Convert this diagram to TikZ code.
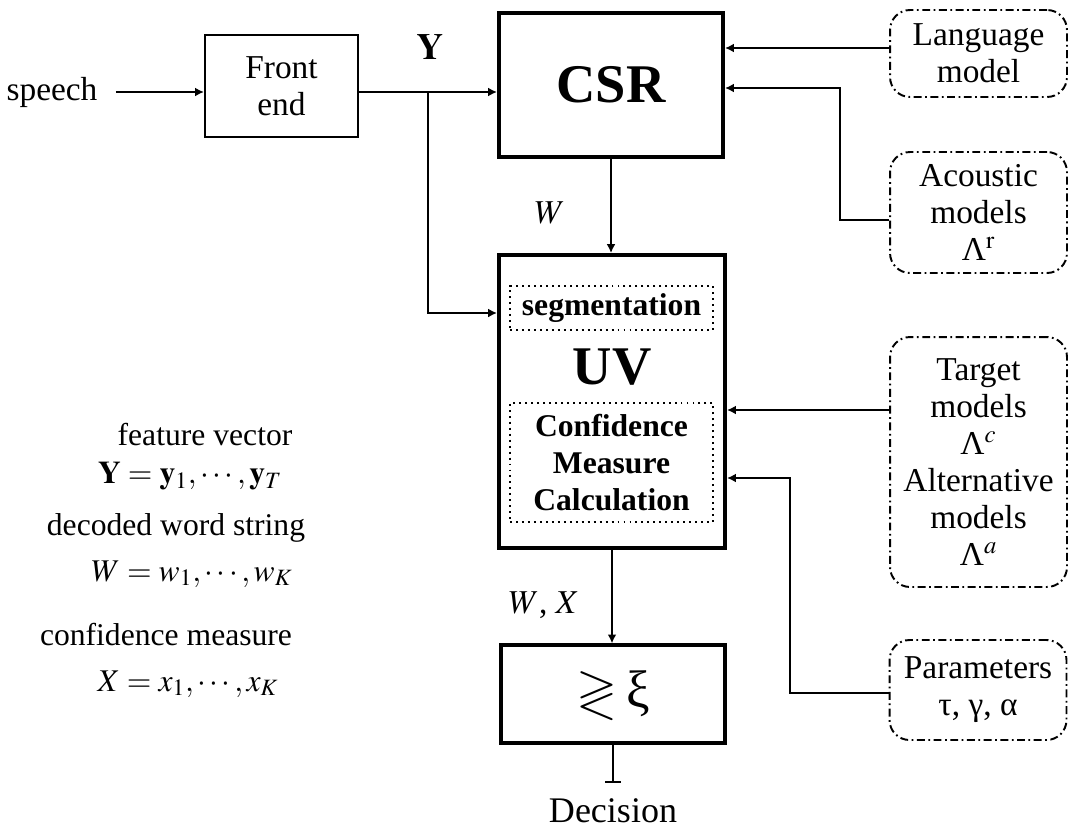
\documentclass[tikz,border=0pt]{standalone}
\usepackage{mathptmx}
\usepackage{amssymb}
\usepackage[no-math]{fontspec}
\setmainfont{Liberation Serif}
\usetikzlibrary{arrows.meta}
\newcommand{\bodysize}{\fontsize{19}{21}\selectfont}
\newcommand{\legsize}{\fontsize{18}{21}\selectfont}
\tikzset{
  blockNode/.style={draw,line width=1.2pt,align=center,inner sep=0pt,font=\bodysize},
  thickBlock/.style={draw,line width=2.3pt,inner sep=0pt,font=\fontsize{31}{34}\selectfont\bfseries},
  modelNode/.style={draw,line width=1.1pt,rounded corners=0.4cm,dash pattern=on 4.5pt off 2pt on 1pt off 2pt,
    minimum width=3.54cm,align=center,inner sep=0pt,font=\bodysize},
  innerBox/.style={draw,line width=1.1pt,dash pattern=on 1.1pt off 2.3pt,minimum width=4.06cm,
    align=center,inner sep=0pt,font=\legsize\bfseries},
  lbl/.style={inner sep=0pt,font=\bodysize},
  legend/.style={inner sep=0pt,font=\legsize},
  conn/.style={line width=1.2pt,-{Latex[length=5pt,width=5pt]}}
}
\begin{document}
\begin{tikzpicture}[x=0.02cm,y=-0.02cm]
  \useasboundingbox (0,0) rectangle (1070,829);
  \node[lbl] (sp) at (52,92) {speech};
  \node[blockNode,minimum width=3.06cm,minimum height=2.04cm] (fe) at (281.5,86) {Front\\end};
  \node[thickBlock,minimum width=4.48cm,minimum height=2.88cm] (csr) at (611,85) {CSR};
  \node[thickBlock,minimum width=4.52cm,minimum height=5.86cm] (uv) at (612,401.5) {};
  \node[innerBox,minimum height=0.88cm] (seg) at (611.5,308) {segmentation};
  \node[lbl,font=\fontsize{31}{34}\selectfont\bfseries] (uvl) at (612,367) {UV};
  \node[innerBox,minimum height=2.38cm] (cmc) at (611.5,462.5) {Confidence\\Measure\\Calculation};
  \node[blockNode,line width=1.9pt,minimum width=4.48cm,minimum height=1.96cm] (thr) at (613,694)
    {{\fontsize{30}{32}\selectfont$\gtrless$\,ξ}};
  \node[lbl,font=\fontsize{20.5}{22}\selectfont] (dec) at (613,811) {Decision};
  \node[modelNode,minimum height=1.74cm] (lm) at (978.5,53.5) {Language\\model};
  \node[modelNode,minimum height=2.42cm] (am) at (978.5,212.5) {Acoustic\\models\\Λ$^{\mathrm{r}}$};
  \node[modelNode,minimum height=5cm] (tm) at (978.5,462) {Target\\models\\Λ$^{c}$\\Alternative\\models\\Λ$^{a}$};
  \node[modelNode,minimum height=2cm] (par) at (978,690) {Parameters\\τ, γ, α};
  \node[lbl,font=\fontsize{21}{23}\selectfont] (ylbl) at (430,47) {$\mathbf{Y}$};
  \node[lbl] (wlbl) at (550,213) {$W$};
  \node[lbl] (wxlbl) at (544,605) {$W$, $X$};
  \foreach \i/\xx/\yy/\txt in {1/205/435/{feature vector},
      2/190/476/{$\mathbf{Y}=\mathbf{y}_1,\cdots,\mathbf{y}_T$},
      3/176/528/{decoded word string},
      4/192/574/{$W=w_1,\cdots,w_K$},
      5/166/635/{confidence measure},
      6/188/684/{$X=x_1,\cdots,x_K$}}
    \node[legend] (leg\i) at (\xx,\yy) {\txt};
  \coordinate (split) at (428,92);
  \coordinate (decEnd) at (613,783);
  \draw[conn] ([xshift=0.36cm]sp.east) -- (fe.west |- sp);
  \draw[conn] (fe.east |- split) -- (csr.west |- split);
  \draw[conn] (split) |- (uv.west |- 0,313);
  \draw[conn] (csr.south) -- (csr.south |- uv.north);
  \draw[conn] (uv.south) -- (uv.south |- thr.north);
  \draw[line width=1.2pt,-{Bar[width=9pt,line width=1.2pt]}] (thr.south) -- (decEnd);
  \draw[conn] (lm.west |- 0,48) -- (csr.east |- 0,48);
  \draw[conn] (am.west |- 0,220) -- (840,220) |- (csr.east |- 0,88);
  \draw[conn] (tm.west |- 0,410) -- (uv.east |- 0,410);
  \draw[conn] (par.west |- 0,693) -- (790,693) |- (uv.east |- 0,478);
\end{tikzpicture}
\end{document}
